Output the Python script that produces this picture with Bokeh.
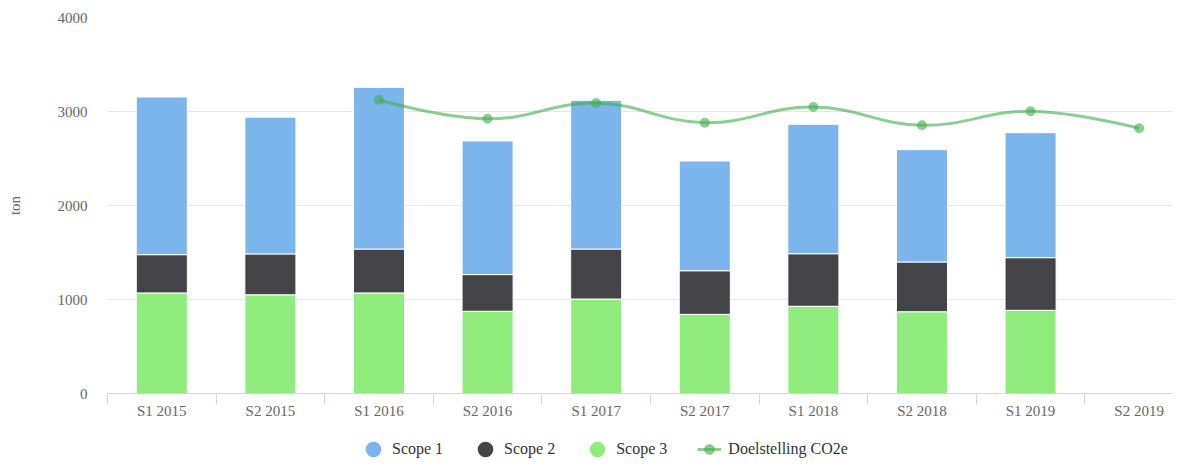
import math
from bokeh.plotting import figure
from bokeh.layouts import column
from bokeh.models import Range1d, FixedTicker, Legend, LegendItem, ColumnDataSource
from bokeh.embed import file_html
from bokeh.resources import INLINE

periods = ["S1 2015", "S2 2015", "S1 2016", "S2 2016", "S1 2017",
           "S2 2017", "S1 2018", "S2 2018", "S1 2019", "S2 2019"]
scope1 = [1677, 1455, 1720, 1422, 1582, 1167, 1377, 1195, 1330, None]
scope2 = [407, 435, 467, 390, 532, 464, 559, 529, 560, None]
scope3 = [1070, 1050, 1070, 875, 1005, 842, 928, 870, 885, None]
target = [None, None, 3122, 2923, 3090, 2881, 3048, 2853, 3002, 2821]
series_names = ["Scope 1", "Scope 2", "Scope 3", "Doelstelling CO2e"]

C1, C2, C3 = "#7cb5ec", "#434348", "#90ed7d"
CL = "#3fae49"
FONT = "Liberation Serif, Times New Roman, serif"

centers = [i + 0.5 for i in range(len(periods))]

bar_idx = [i for i in range(len(periods)) if scope1[i] is not None]
bars = ColumnDataSource(dict(
    x=[centers[i] for i in bar_idx],
    s1=[scope1[i] for i in bar_idx],
    s2=[scope2[i] for i in bar_idx],
    s3=[scope3[i] for i in bar_idx],
))

tx = [centers[i] for i in range(len(periods)) if target[i] is not None]
ty = [v for v in target if v is not None]

p = figure(width=1172, height=421, output_backend="svg", toolbar_location=None,
           x_range=Range1d(0, 9.807), y_range=Range1d(0, 4000),
           min_border_left=107, min_border_right=0, min_border_top=17,
           min_border_bottom=28)
p.outline_line_color = None
p.background_fill_color = "white"

p.vbar_stack(["s3", "s2", "s1"], x="x", width=0.47, source=bars,
             color=[C3, C2, C1], line_color="white", line_width=1)

# Highcharts-like spline through the target points (computed in pixel-like space)
SX, SY = 108.6, 376 / 4000
P = [(x * SX, -y * SY) for x, y in zip(tx, ty)]
n = len(P)
left = [None] * n
right = [None] * n
sm = 1.5
for i in range(1, n - 1):
    (lx, ly), (px, py), (nx, ny) = P[i - 1], P[i], P[i + 1]
    lcx = (sm * px + lx) / (sm + 1); lcy = (sm * py + ly) / (sm + 1)
    rcx = (sm * px + nx) / (sm + 1); rcy = (sm * py + ny) / (sm + 1)
    dl = math.hypot(lcx - px, lcy - py); dr = math.hypot(rcx - px, rcy - py)
    la = math.atan2(lcy - py, lcx - px); ra = math.atan2(rcy - py, rcx - px)
    ja = math.pi / 2 + (la + ra) / 2
    if abs(la - ja) > math.pi / 2:
        ja -= math.pi
    left[i] = (px + math.cos(ja) * dl, py + math.sin(ja) * dl)
    right[i] = (px + math.cos(math.pi + ja) * dr, py + math.sin(math.pi + ja) * dr)

seg = dict(x0=[], y0=[], x1=[], y1=[], cx0=[], cy0=[], cx1=[], cy1=[])
for i in range(n - 1):
    a, b = P[i], P[i + 1]
    c0 = right[i] or a
    c1 = left[i + 1] or b
    seg["x0"].append(a[0] / SX); seg["y0"].append(-a[1] / SY)
    seg["x1"].append(b[0] / SX); seg["y1"].append(-b[1] / SY)
    seg["cx0"].append(c0[0] / SX); seg["cy0"].append(-c0[1] / SY)
    seg["cx1"].append(c1[0] / SX); seg["cy1"].append(-c1[1] / SY)
p.bezier(x0="x0", y0="y0", x1="x1", y1="y1", cx0="cx0", cy0="cy0",
         cx1="cx1", cy1="cy1", source=ColumnDataSource(seg),
         line_color=CL, line_width=3, line_alpha=0.6)
p.scatter(tx, ty, marker="circle", size=10, fill_color=CL, fill_alpha=0.6,
          line_color=None)

# x axis
xa = p.xaxis[0]
xa.ticker = FixedTicker(ticks=centers, minor_ticks=list(range(0, 11)))
xa.major_label_overrides = {c: lab for c, lab in zip(centers, periods)}
xa.major_tick_out = 0
xa.major_tick_in = 0
xa.minor_tick_out = 11
xa.minor_tick_in = 0
xa.minor_tick_line_color = "#ccd6eb"
xa.axis_line_color = "#ccd6eb"
xa.major_label_standoff = -2
xa.major_label_text_font = FONT
xa.major_label_text_font_size = "15px"
xa.major_label_text_color = "#666666"

# y axis
ya = p.yaxis[0]
ya.ticker = FixedTicker(ticks=[0, 1000, 2000, 3000, 4000])
ya.axis_line_color = None
ya.major_tick_line_color = None
ya.minor_tick_line_color = None
ya.major_tick_out = 0
ya.major_label_standoff = 20
ya.major_label_text_font = FONT
ya.major_label_text_font_size = "15px"
ya.major_label_text_color = "#666666"
ya.axis_label = "ton"
ya.axis_label_text_font = FONT
ya.axis_label_text_font_size = "15px"
ya.axis_label_text_font_style = "normal"
ya.axis_label_text_color = "#666666"
ya.axis_label_standoff = 32

p.xgrid.grid_line_color = None
p.ygrid.grid_line_color = "#e6e6e6"
p.ygrid.grid_line_width = 1

# legend strip (its frame is aligned with the chart's frame by the column layout)
lp = figure(width=1172, height=40, output_backend="svg", toolbar_location=None,
            x_range=Range1d(0, 1), y_range=Range1d(0, 1),
            x_axis_type=None, y_axis_type=None,
            min_border_left=0, min_border_right=0, min_border_top=0,
            min_border_bottom=0)
lp.outline_line_color = None
lp.xgrid.visible = False
lp.ygrid.visible = False
# proxies carry a real data point that lies outside the strip's ranges
px0, py0 = [tx[0]], [ty[0]]
r1 = lp.scatter(x=px0, y=py0, marker="circle", fill_color=C1, line_color=C1, line_width=6)
r2 = lp.scatter(x=px0, y=py0, marker="circle", fill_color=C2, line_color=C2, line_width=6)
r3 = lp.scatter(x=px0, y=py0, marker="circle", fill_color=C3, line_color=C3, line_width=6)
rl = lp.line(x=px0 * 2, y=py0 * 2, line_color=CL, line_width=3, line_alpha=0.6)
rm = lp.scatter(x=px0, y=py0, marker="circle", fill_color=CL, fill_alpha=0.6,
                line_color=CL, line_alpha=0.6, line_width=1)
legend = Legend(items=[LegendItem(label=series_names[0], renderers=[r1]),
                       LegendItem(label=series_names[1], renderers=[r2]),
                       LegendItem(label=series_names[2], renderers=[r3]),
                       LegendItem(label=series_names[3], renderers=[rl, rm])],
                orientation="horizontal", location=(254, 0),
                glyph_width=24, glyph_height=24, label_standoff=7, spacing=30,
                padding=0, margin=0, border_line_color=None,
                background_fill_alpha=0,
                label_text_font=FONT, label_text_font_size="16px",
                label_text_color="#333333")
lp.add_layout(legend, "center")

layout = column(p, lp, spacing=0)
open("out.html", "w").write(file_html(layout, INLINE))
